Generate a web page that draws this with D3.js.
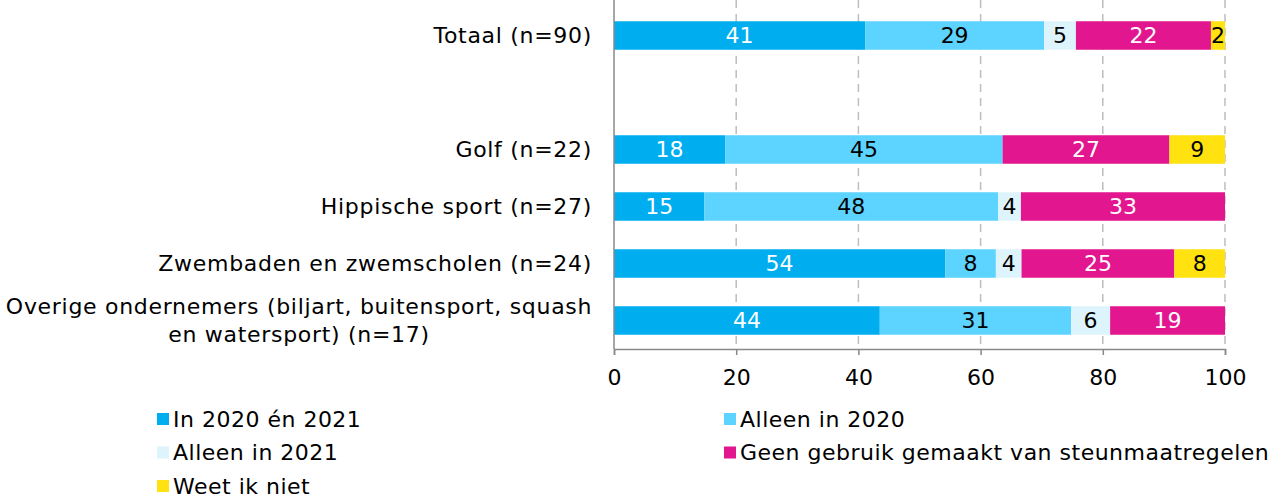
<!DOCTYPE html>
<html><head><meta charset="utf-8">
<script src="https://cdn.jsdelivr.net/npm/d3@7"></script>
<style>body{margin:0;background:#fff}svg{display:block}text{font-family:"DejaVu Sans",sans-serif}</style>
</head><body><svg id="c" width="1283" height="498"></svg>
<script>
const categories = ["Totaal (n=90)", "", "Golf (n=22)", "Hippische sport (n=27)", "Zwembaden en zwemscholen (n=24)", "Overige ondernemers (biljart, buitensport, squash\nen watersport) (n=17)"];
const seriesNames = ["In 2020 én 2021", "Alleen in 2020", "Alleen in 2021", "Geen gebruik gemaakt van steunmaatregelen", "Weet ik niet"];
const inBoth = [41.1, null, 18.2, 14.8, 54.2, 43.5];
const only2020 = [29.3, null, 45.4, 48.1, 8.3, 31.3];
const only2021 = [5.2, null, 0, 3.7, 4.2, 6.4];
const noUse = [22.1, null, 27.3, 33.4, 25.0, 18.8];
const dontKnow = [2.3, null, 9.1, 0, 8.3, 0];
const xTicks = [0, 20, 40, 60, 80, 100];
const colors = ["#00AEEF", "#5DD3FF", "#DDF4FD", "#E2168F", "#FFE20F"];
const labelColors = ["#fff", "#000", "#000", "#fff", "#000"];

const series = [inBoth, only2020, only2021, noUse, dontKnow];
const svg = d3.select("#c");
const x = d3.scaleLinear().domain([0, 100]).range([614, 1225]);
const y = d3.scaleBand().domain(d3.range(categories.length)).range([7, 349]).paddingInner(0.5).paddingOuter(0.25);
const fs = 22, ls = 0.7;

svg.append("g").selectAll("line").data(xTicks.slice(1)).join("line")
  .attr("x1", d => x(d)).attr("x2", d => x(d)).attr("y1", 0).attr("y2", 349)
  .attr("stroke", "#bdbdbd").attr("stroke-width", 1.5).attr("stroke-dasharray", "8,6");

categories.forEach((c, i) => {
  let cum = 0;
  series.forEach((s, k) => {
    const v = s[i];
    if (v == null || v === 0) return;
    const x0 = x(cum), x1 = x(cum + v);
    svg.append("rect").attr("x", x0).attr("y", y(i)).attr("width", x1 - x0).attr("height", y.bandwidth()).attr("fill", colors[k]);
    svg.append("text").attr("x", (x0 + x1) / 2).attr("y", y(i) + y.bandwidth() / 2).attr("dy", "0.36em")
      .attr("text-anchor", "middle").attr("font-size", fs).attr("fill", labelColors[k]).text(Math.round(v));
    cum += v;
  });
});

svg.append("line").attr("x1", 614).attr("x2", 614).attr("y1", 0).attr("y2", 349).attr("stroke", "#888").attr("stroke-width", 1.5);

const xa = svg.append("g").attr("transform", "translate(0,349)")
  .call(d3.axisBottom(x).tickValues(xTicks).tickSize(6).tickPadding(14));
xa.select(".domain").attr("stroke", "#888").attr("stroke-width", 1.5);
xa.selectAll(".tick line").attr("stroke", "#888").attr("stroke-width", 1.5);
xa.selectAll(".tick text").attr("font-size", fs).attr("fill", "#000").attr("font-family", "DejaVu Sans");

categories.forEach((c, i) => {
  if (!c) return;
  const lines = c.split("\n");
  const cy = y(i) + y.bandwidth() / 2;
  const t = svg.append("text").attr("font-size", fs).attr("fill", "#000").attr("letter-spacing", ls);
  if (lines.length === 1) {
    t.attr("x", 592).attr("y", cy).attr("dy", "0.36em").attr("text-anchor", "end").text(c);
  } else {
    t.attr("x", 299).attr("text-anchor", "middle");
    lines.forEach((l, j) => {
      t.append("tspan").attr("x", 299).attr("y", cy + (j - (lines.length - 1) / 2) * 28).attr("dy", "0.36em").text(l);
    });
  }
});

const legPos = [[157, 419], [724, 419], [157, 452.5], [724, 452.5], [157, 486]];
seriesNames.forEach((n, k) => {
  const [lx, ly] = legPos[k];
  svg.append("rect").attr("x", lx).attr("y", ly - 6).attr("width", 12).attr("height", 12).attr("fill", colors[k]);
  svg.append("text").attr("x", lx + 16).attr("y", ly).attr("dy", "0.36em").attr("font-size", fs).attr("letter-spacing", 0.5).attr("fill", "#000").text(n);
});
</script></body></html>
